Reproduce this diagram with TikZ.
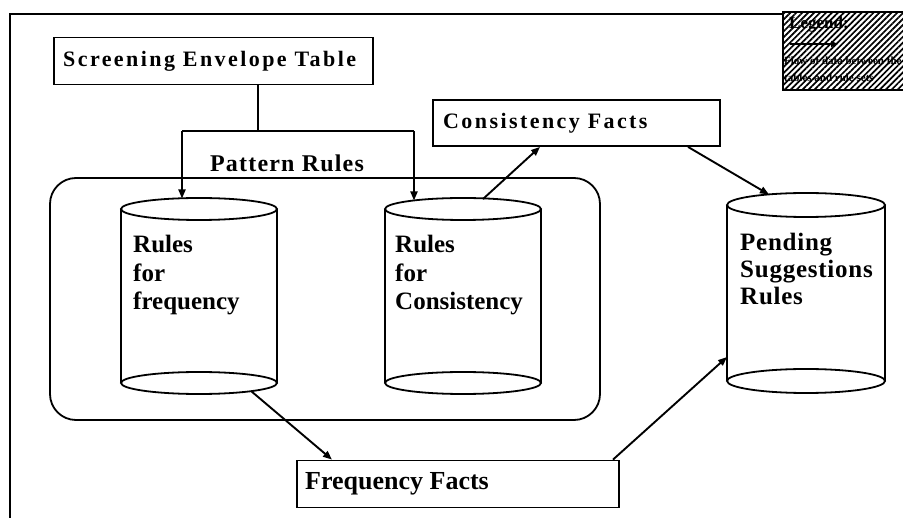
\documentclass[tikz,border=0pt]{standalone}
\usepackage{fontspec}
\setmainfont{Liberation Serif}
\usetikzlibrary{arrows.meta,patterns.meta}
\tikzset{
  frame/.style={line width=1.8pt},
  factbox/.style={draw,line width=1.8pt,inner sep=0pt,minimum height=47pt},
  boxtext/.style={anchor=west,inner sep=0pt,font=\bfseries\fontsize{22}{24}\selectfont\addfontfeatures{LetterSpace=11}},
  cyltext/.style={anchor=north west,inner sep=0pt,align=left,font=\bfseries\fontsize{25}{28.5}\selectfont},
  cylline/.style={line width=1.8pt},
  flow/.style={line width=1.9pt,-{Triangle[length=9pt,width=7pt]}},
  link/.style={line width=1.9pt},
}
\newcommand\drawcylinder[6]{% name, cx, rx, top cy, bottom cy, ry
  \coordinate (#1) at (#2,{(#4+#5)/2});
  \draw[cylline] (#2-#3,#4) -- (#2-#3,#5) (#2+#3,#4) -- (#2+#3,#5);
  \draw[cylline] (#2,#4) ellipse [x radius=#3pt,y radius=#6pt];
  \draw[cylline] (#2,#5) ellipse [x radius=#3pt,y radius=#6pt];
}
\begin{document}
\begin{tikzpicture}[x=1pt,y=-1pt]
\useasboundingbox (0,0) rectangle (903,518);

% outer frame (only top and left edges are in view)
\draw[frame] (10,518) -- (10,14) -- (783,14);

% legend
\node[draw,line width=1.5pt,minimum width=125pt,minimum height=78pt,inner sep=0pt,
      pattern={Lines[angle=45,distance=4.2pt,line width=1.7pt]}] (legend) at (845.5,51) {};
\node[anchor=west,inner sep=0pt,font=\bfseries\fontsize{17}{18}\selectfont] (legtitle) at (789,24) {Legend:};
\coordinate (legA) at (790,44);
\coordinate (legB) at (838,44);
\draw[line width=1.6pt,-{Triangle[length=7pt,width=6pt]}] (legA) -- (legB);
\node[anchor=west,inner sep=0pt,font=\bfseries\fontsize{11}{12}\selectfont] (legline1) at (784,61) {Flow of data between the};
\node[anchor=west,inner sep=0pt,font=\bfseries\fontsize{11}{12}\selectfont] (legline2) at (784,78) {tables and rule sets};

% pattern rules group
\draw[line width=1.8pt,rounded corners=26pt] (50,178) rectangle (600,420);
\node[inner sep=0pt,font=\bfseries\fontsize{24}{26}\selectfont\addfontfeatures{LetterSpace=5}] (pattern) at (287,163) {Pattern Rules};

% tables
\node[factbox,minimum width=319pt] (screen) at (213.5,61) {};
\node[boxtext] at (63,61) {Screening Envelope Table};
\node[factbox,minimum width=287pt,minimum height=46pt] (cons) at (576.5,123) {};
\node[boxtext] at (443,123) {Consistency Facts};
\node[factbox,minimum width=322pt] (freq) at (458,484) {};
\node[boxtext,font=\bfseries\fontsize{26}{28}\selectfont] at (305,484) {Frequency Facts};

% rule sets
\drawcylinder{lcyl}{199}{78}{209}{383}{11}
\drawcylinder{mcyl}{463}{78}{209}{383}{11}
\drawcylinder{rcyl}{806}{79}{205}{381}{12}
\node[cyltext] (ltext) at (133,235) {Rules\\for\\frequency};
\node[cyltext] (mtext) at (395,235) {Rules\\for\\Consistency};
\node[cyltext,font=\bfseries\fontsize{25}{27}\selectfont\addfontfeatures{LetterSpace=3}] (rtext) at (740,233) {Pending\\Suggestions\\Rules};

% anchor points on the cylinders
\coordinate (fork) at (258,131);
\coordinate (lcylin) at (182,198.5);
\coordinate (mcylin) at (414,200.5);
\coordinate (mcylout) at (483,199);
\coordinate (lcylout) at (251,391);
\coordinate (rcyltop) at (769,194.5);
\coordinate (rcylside) at (727,357);

% data flow
\draw[link] (screen.south -| fork) -- (fork);
\draw[link] (lcylin |- fork) -- (mcylin |- fork);
\draw[flow] (lcylin |- fork) -- (lcylin);
\draw[flow] (mcylin |- fork) -- (mcylin);
\draw[flow] (mcylout) -- (cons.south west -| 540,0);
\draw[flow] (cons.south west -| 688,0) -- (rcyltop);
\draw[flow] (lcylout) -- (freq.north west -| 332,0);
\draw[flow] (freq.north west -| 613,0) -- (rcylside);
\end{tikzpicture}
\end{document}
